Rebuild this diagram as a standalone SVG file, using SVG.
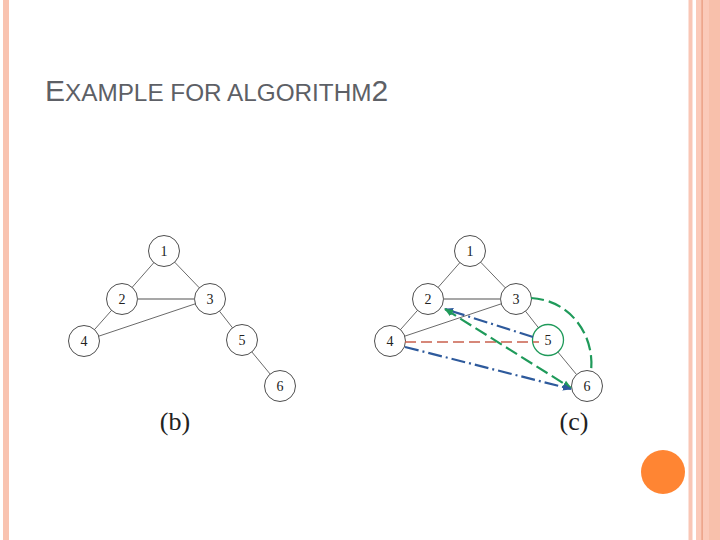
<svg xmlns="http://www.w3.org/2000/svg" width="720" height="540" viewBox="0 0 720 540">
<style>
.node circle{fill:#fff;stroke:#3a3a3a;stroke-width:0.9}
.node text{font-family:"Liberation Serif","DejaVu Serif",serif;font-size:14px;fill:#222;text-anchor:middle;dominant-baseline:central}
.edge{stroke:#444;stroke-width:0.8;fill:none}
.edge.grey{stroke:#8a8a8a;stroke-width:1.6}
.cap{font-family:"Liberation Serif","DejaVu Serif",serif;font-size:26px;fill:#222;text-anchor:middle}
.title{font-family:"Liberation Sans",Arial,sans-serif;fill:#5d6066}
.red{stroke:#c9604e;stroke-width:1.6;fill:none;stroke-dasharray:11 5}
.blue{stroke:#2e5a9c;stroke-width:2.2;fill:none;stroke-dasharray:14 4 2 4}
.green{stroke:#1f9a5a;stroke-width:2.2;fill:none;stroke-dasharray:13 5}
</style>
<defs>
<marker id="ab" viewBox="0 0 10 10" refX="9" refY="5" markerWidth="9" markerHeight="9" markerUnits="userSpaceOnUse" orient="auto-start-reverse"><path d="M0,1 L10,5 L0,9 Z" fill="#2e5a9c"/></marker>
<marker id="ag" viewBox="0 0 10 10" refX="9" refY="5" markerWidth="9" markerHeight="9" markerUnits="userSpaceOnUse" orient="auto-start-reverse"><path d="M0,1 L10,5 L0,9 Z" fill="#1f9a5a"/></marker>
</defs>
<rect width="720" height="540" fill="#fff"/>
<g id="frame">
<rect x="3" y="0" width="6" height="540" fill="#f9c3b0"/>
<rect x="688.5" y="0" width="4" height="540" fill="#f9c6b5"/>
<rect x="696" y="0" width="24" height="540" fill="#fbcab9"/>
<rect x="709" y="0" width="11" height="540" fill="#f8c0ab"/>
<rect x="701.5" y="0" width="1.2" height="540" fill="#e8987a"/>
<circle cx="663" cy="472" r="22" fill="#ff8533"/>
</g>
<text class="title" x="45" y="101"><tspan font-size="30">E</tspan><tspan font-size="24.3">XAMPLE FOR ALGORITHM</tspan><tspan font-size="30">2</tspan></text>

<g id="graph-b">
<g id="b1" class="node"><circle cx="164" cy="251" r="15.5"/><text x="164" y="251">1</text></g>
<g id="b2" class="node"><circle cx="122" cy="299" r="15.5"/><text x="122" y="299">2</text></g>
<g id="b3" class="node"><circle cx="210" cy="299" r="15.5"/><text x="210" y="299">3</text></g>
<g id="b4" class="node"><circle cx="84" cy="341" r="15.5"/><text x="84" y="341">4</text></g>
<g id="b5" class="node"><circle cx="242" cy="340" r="15.5"/><text x="242" y="340">5</text></g>
<g id="b6" class="node"><circle cx="280" cy="386" r="15.5"/><text x="280" y="386">6</text></g>
<text class="cap" x="175" y="430">(b)</text>
</g>

<g id="graph-c">
<g id="c1" class="node"><circle cx="470" cy="251" r="15.5"/><text x="470" y="251">1</text></g>
<g id="c2" class="node"><circle cx="428" cy="299" r="15.5"/><text x="428" y="299">2</text></g>
<g id="c3" class="node"><circle cx="516" cy="299" r="15.5"/><text x="516" y="299">3</text></g>
<g id="c4" class="node"><circle cx="390" cy="341" r="15.5"/><text x="390" y="341">4</text></g>
<g id="c5" class="node"><circle cx="548" cy="340" r="15.5" style="stroke:#1f9a5a;stroke-width:1.3"/><text x="548" y="340">5</text></g>
<g id="c6" class="node"><circle cx="587" cy="386" r="15.5"/><text x="587" y="386">6</text></g>
<text class="cap" x="574" y="430">(c)</text>
</g>

<g id="connectors">
<g id="edges-b">
<line class="edge" x1="153.8" y1="262.7" x2="132.2" y2="287.3"/>
<line class="edge" x1="174.7" y1="262.2" x2="199.3" y2="287.8"/>
<line class="edge grey" x1="137.5" y1="299" x2="194.5" y2="299"/>
<line class="edge" x1="111.5" y1="310.4" x2="94.5" y2="329.6"/>
<line class="edge" x1="195.3" y1="303.8" x2="98.7" y2="336.2"/>
<line class="edge" x1="219.5" y1="311.2" x2="232.5" y2="327.8"/>
<line class="edge" x1="251.9" y1="352" x2="270.1" y2="374"/>
</g>
<g id="edges-c" transform="translate(306,0)">
<line class="edge" x1="153.8" y1="262.7" x2="132.2" y2="287.3"/>
<line class="edge" x1="174.7" y1="262.2" x2="199.3" y2="287.8"/>
<line class="edge grey" x1="137.5" y1="299" x2="194.5" y2="299"/>
<line class="edge" x1="111.5" y1="310.4" x2="94.5" y2="329.6"/>
<line class="edge" x1="195.3" y1="303.8" x2="98.7" y2="336.2"/>
<line class="edge" x1="219.5" y1="311.2" x2="232.5" y2="327.8"/>
<line class="edge" x1="251.9" y1="352" x2="270.1" y2="374"/>
</g>
<g id="edges-colored">
<line class="red" x1="405" y1="342" x2="539" y2="342"/>
<line class="blue" x1="533" y1="337" x2="445" y2="309" marker-end="url(#ab)"/>
<line class="green" x1="445" y1="309" x2="571" y2="388" marker-start="url(#ag)" marker-end="url(#ag)"/>
<line class="blue" x1="405" y1="347" x2="571" y2="389" marker-end="url(#ab)"/>
<path class="green" d="M531,298 C570,300 595,335 591,371"/>
</g>
</g>
</svg>
